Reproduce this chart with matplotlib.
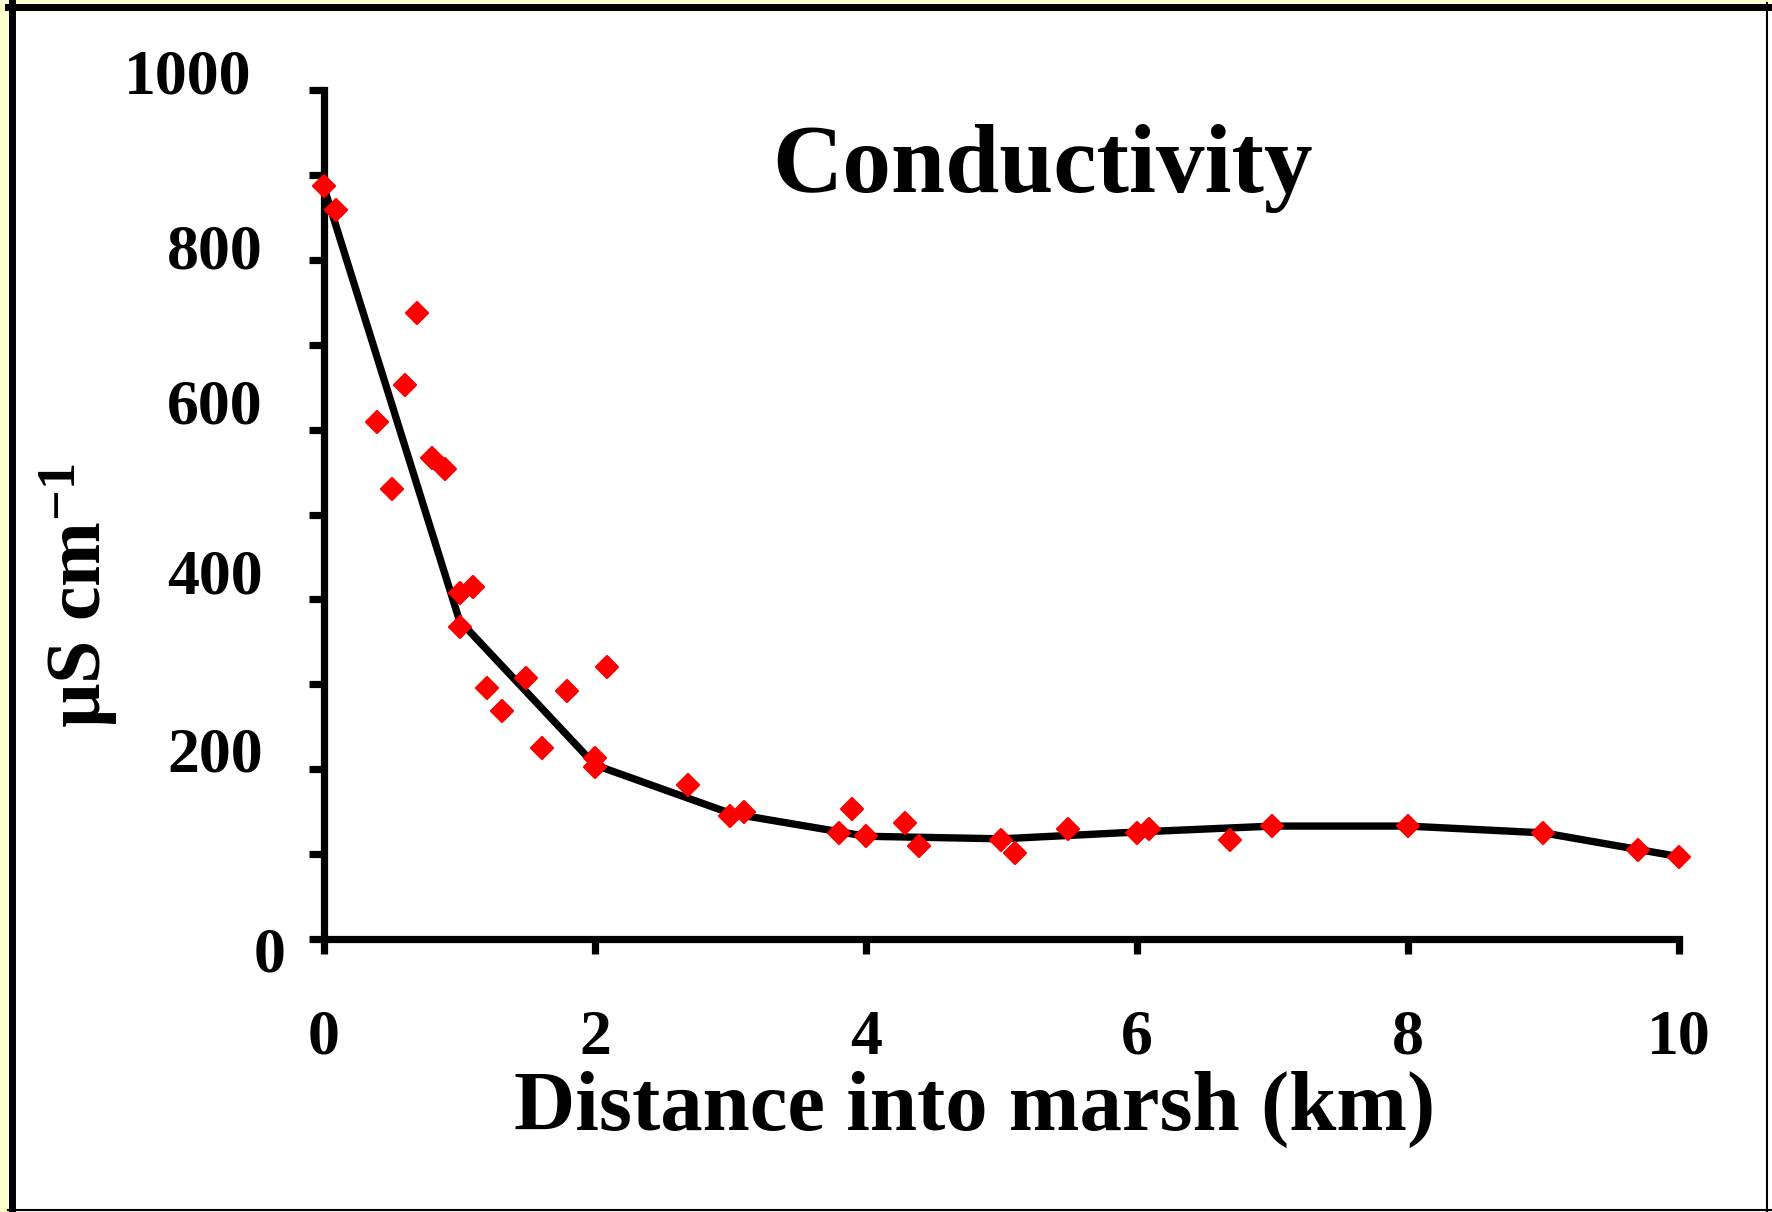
import matplotlib
matplotlib.use("Agg")
import matplotlib.pyplot as plt
import matplotlib.transforms as mtransforms
from matplotlib.markers import MarkerStyle
from matplotlib.patches import Rectangle
from matplotlib.lines import Line2D

plt.rcParams["font.family"] = ["Liberation Serif", "DejaVu Serif"]
plt.rcParams["font.weight"] = "bold"
plt.rcParams["mathtext.fontset"] = "custom"
plt.rcParams["mathtext.rm"] = "Liberation Serif:bold"
plt.rcParams["mathtext.it"] = "Liberation Serif:bold"
plt.rcParams["mathtext.bf"] = "Liberation Serif:bold"

# field samples: distance into marsh (km) and conductivity (uS/cm)
dist = [0, 0.09, 0.39, 0.5, 0.6, 0.69, 0.8, 0.89, 1.0, 1.1, 1.0, 1.2, 1.31,
        1.49, 1.61, 1.79, 2.0, 2.0, 2.09, 2.69, 3.0, 3.1, 3.8, 3.9, 4.0,
        4.29, 4.39, 5.0, 5.1, 5.49, 6.0, 6.09, 6.69, 7.0, 8.0, 9.0, 9.7, 10.0]
cond = [887, 859, 609, 530, 653, 737, 566, 554, 407, 415, 367, 296, 268,
        308, 225, 292, 213, 203, 320, 181, 145, 149, 125, 153, 121,
        137, 109, 117, 101, 129, 125, 129, 117, 133, 133, 125, 105, 97]

# trend line through the per-km means
trend_x = [0, 1, 2, 3, 4, 5, 6, 7, 8, 9, 10]
trend_y = [885, 375, 205, 148, 121, 118, 126, 133, 133, 125, 97]

x_ticks = [0, 2, 4, 6, 8, 10]
y_ticks = list(range(0, 1001, 100))
y_labels = [str(v) if v % 200 == 0 else "" for v in y_ticks]

W, H = 1772, 1212
fig = plt.figure(figsize=(W / 100, H / 100), dpi=100, facecolor="#FFFFCC")
fx = lambda px: px / W
fy = lambda py: 1 - py / H

# white slide panel with its black frame
fig.add_artist(Rectangle((fx(8), 0), 1 - fx(8), fy(3), transform=fig.transFigure,
                         facecolor="white", edgecolor="none", zorder=0))
for xs, ys, lw in [([11.5, 11.5], [3, H], 5.0), ([8, W], [6.5, 6.5], 5.0),
                   ([1767, 1767], [3, H], 1.5), ([8, W], [1210, 1210], 1.5)]:
    fig.add_artist(Line2D([fx(v) for v in xs], [fy(v) for v in ys],
                          transform=fig.transFigure, color="black", lw=lw,
                          solid_capstyle="projecting", zorder=1))

ax = fig.add_axes([fx(324), fy(939), fx(1679) - fx(324), (939 - 90) / H])
ax.patch.set_visible(False)
for s in ["top", "right"]:
    ax.spines[s].set_visible(False)
for s in ["left", "bottom"]:
    ax.spines[s].set_linewidth(5.2)

ax.plot(trend_x, trend_y, color="black", lw=5.3, solid_joinstyle="round",
        zorder=2, clip_on=False)
ax.plot(dist, cond, linestyle="none", marker=MarkerStyle("D", joinstyle="round"),
        ms=11, mfc="#FF0000", mec="#FF0000", mew=1.6, zorder=3, clip_on=False)

ax.set_xlim(0, 10)
ax.set_ylim(0, 1000)
ax.set_xticks(x_ticks)
ax.set_xticklabels([str(v) for v in x_ticks])
ax.set_yticks(y_ticks)
ax.set_yticklabels(y_labels)
ax.tick_params(axis="x", direction="out", length=11, width=5.2, pad=40, labelsize=46)
ax.tick_params(axis="y", direction="out", length=11, width=5.2, pad=33, labelsize=46)

# the y labels sit a little unevenly next to their ticks (px right, px up)
nudge = {"1000": (-12, 18), "800": (0, 13), "600": (0, 28), "400": (0, 28),
         "200": (0, 20), "0": (23, -10)}
for lab, v in zip(ax.get_yticklabels(), y_ticks):
    dx, dy = nudge.get(str(v), (0, 0))
    off = mtransforms.ScaledTranslation(dx / 100, dy / 100, fig.dpi_scale_trans)
    lab.set_transform(lab.get_transform() + off)

fig.text(fx(1043), fy(192), "Conductivity", fontsize=70, ha="center", va="baseline")
fig.text(fx(975), fy(1130), "Distance into marsh (km)", fontsize=61,
         ha="center", va="baseline")
fig.text(fx(79), fy(596), r"µS cm$^{-1}$", fontsize=56, rotation=90,
         ha="center", va="center")

fig.savefig("out.png", dpi=100, facecolor=fig.get_facecolor())
